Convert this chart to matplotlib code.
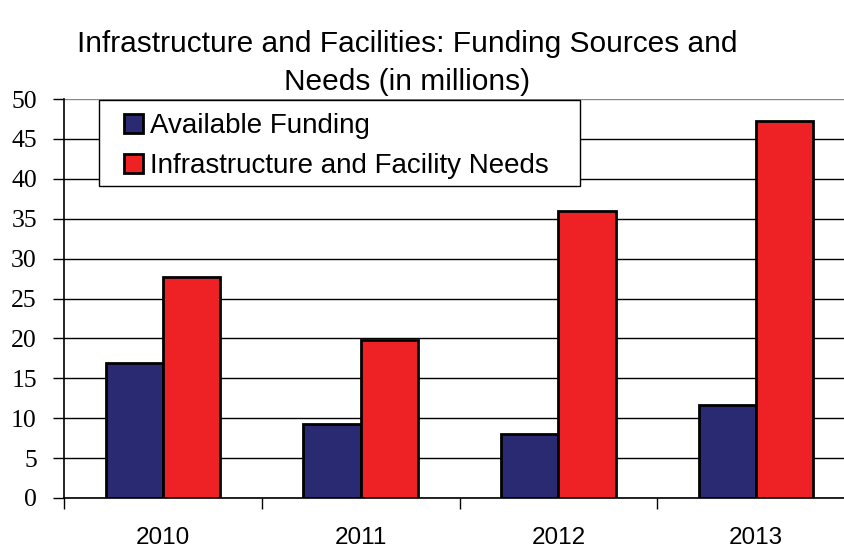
import matplotlib.pyplot as plt
from matplotlib.patches import Rectangle
import numpy as np

years = ["2010", "2011", "2012", "2013"]
available = [16.9, 9.3, 8.0, 11.6]
needs = [27.7, 19.8, 36.0, 47.2]
series_names = ["Available Funding", "Infrastructure and Facility Needs"]

W, H = 844, 548
fig = plt.figure(figsize=(W / 100, H / 100), dpi=100)
ax = fig.add_axes([64 / W, 1 - 498 / H, 791 / W, 399 / H])

x = np.arange(len(years))
w = 0.29
ax.bar(x - w / 2, available, w, color="#2a2a72", edgecolor="black", linewidth=2,
       label=series_names[0], zorder=3)
ax.bar(x + w / 2, needs, w, color="#ee2225", edgecolor="black", linewidth=2,
       label=series_names[1], zorder=3)

ax.set_xlim(-0.5, 3.5)
ax.set_ylim(0, 50)
ax.set_yticks(range(0, 51, 5))
ax.set_yticklabels([str(v) for v in range(0, 51, 5)], family="Liberation Serif", fontsize=18.5)
ax.tick_params(axis="y", length=8, width=1, pad=11.5)
ax.yaxis.grid(True, color="black", linewidth=1)
ax.get_ygridlines()[-1].set_color("#888888")
ax.set_axisbelow(True)

ax.set_xticks(x)
ax.set_xticklabels(years, family="Liberation Sans", fontsize=17.5)
ax.tick_params(axis="x", length=0, pad=21)
ax.set_xticks(np.arange(-0.5, 4, 1), minor=True)
ax.tick_params(axis="x", which="minor", length=8, width=1)

for s in ["top", "right"]:
    ax.spines[s].set_visible(False)
ax.spines["left"].set_linewidth(1.2)
ax.spines["bottom"].set_linewidth(1.2)

# legend box drawn separately so the padding matches
box = Rectangle((99 / W, 1 - 186 / H), 481 / W, 86 / H, transform=fig.transFigure,
                facecolor="white", edgecolor="black", linewidth=1, zorder=4, clip_on=False)
ax.add_patch(box)
leg = ax.legend(loc="upper left", bbox_to_anchor=(124 / W, 1 - 113 / H), bbox_transform=fig.transFigure,
                prop={"family": "Liberation Sans", "size": 20}, frameon=False,
                handlelength=0.68, handleheight=0.68, handletextpad=0.25,
                borderpad=0, labelspacing=0.5, borderaxespad=0)
leg.set_zorder(5)

fig.text(0.482, 1 - 63 / H, "Infrastructure and Facilities: Funding Sources and\nNeeds (in millions)",
         ha="center", va="center", family="Liberation Sans", fontsize=21.5, linespacing=1.45)

fig.savefig("out.png", dpi=100)
